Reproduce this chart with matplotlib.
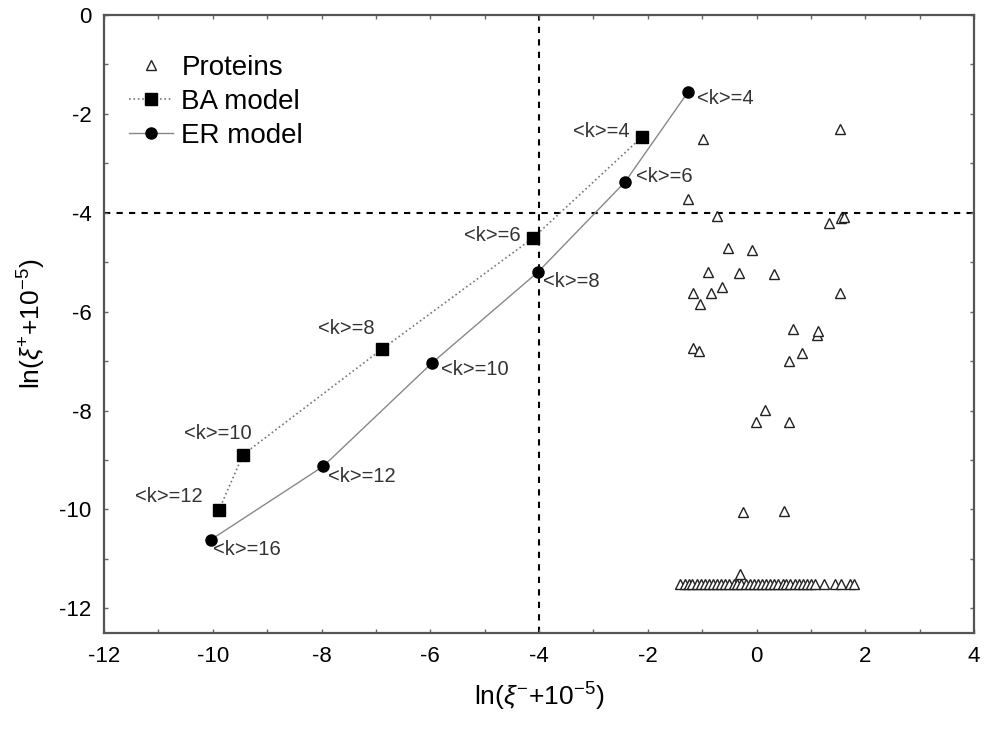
import matplotlib
matplotlib.use("Agg")
import matplotlib.pyplot as plt
from matplotlib.ticker import MultipleLocator

plt.rcParams['font.family'] = ['Liberation Sans', 'DejaVu Sans']
plt.rcParams['mathtext.fontset'] = 'custom'
plt.rcParams['mathtext.rm'] = 'Liberation Sans'
plt.rcParams['mathtext.it'] = 'Liberation Sans:italic'
plt.rcParams['mathtext.bf'] = 'Liberation Sans:bold'
plt.rcParams['axes.unicode_minus'] = False

# ---- data ----
ba_k = [4, 6, 8, 10, 12]
ba_x = [-2.11, -4.11, -6.89, -9.44, -9.89]
ba_y = [-2.47, -4.51, -6.76, -8.89, -10.02]

er_k = [4, 6, 8, 10, 12, 16]
er_x = [-1.26, -2.42, -4.02, -5.97, -7.97, -10.03]
er_y = [-1.56, -3.38, -5.20, -7.04, -9.13, -10.61]

prot_x = [1.53, -0.99, -1.26, -0.73, 1.33, 1.55, 1.60, -0.53, -0.09, -0.90, -0.33, 0.32,
          -1.17, -0.84, -0.64, -1.03, 1.53, 0.68, 1.11, 1.14, -1.17, -1.06,
          0.59, 0.83, 0.15, -0.01, 0.59, -0.24, 0.50, -0.31]
prot_y = [-2.31, -2.51, -3.72, -4.07, -4.21, -4.11, -4.08, -4.72, -4.76, -5.20, -5.22, -5.24,
          -5.63, -5.63, -5.51, -5.85, -5.63, -6.36, -6.48, -6.40, -6.74, -6.80,
          -7.00, -6.84, -7.98, -8.24, -8.24, -10.06, -10.04, -11.30]
# proteins with xi+ = 0 (bottom row)
row_x = [-1.40, -1.32, -1.25, -1.18, -1.10, -1.02, -0.95, -0.88, -0.80, -0.72, -0.65,
         -0.58, -0.50, -0.42, -0.35, -0.28, -0.20, -0.12, -0.05, 0.03, 0.10, 0.18,
         0.25, 0.33, 0.40, 0.48, 0.55, 0.62, 0.70, 0.78, 0.85, 0.93, 1.00, 1.08,
         1.25, 1.45, 1.55, 1.72, 1.80]
row_y = [-11.51] * len(row_x)

# label offsets (pixels) and alignment
ba_off = [(-12, 6), (-12, 2), (-7, 21), (-25, 21), (-16, 14)]
ba_ha = ['right', 'right', 'right', 'center', 'right']
er_off = [(9, -6), (11, 6), (5, -9), (9, -6), (5, -10), (2, -10)]

fig = plt.figure(figsize=(9.86, 7.31), dpi=100)
ax = fig.add_axes([104/986, 1-633/731, (974-104)/986, (633-15)/731])

ax.axvline(-4, color='black', linestyle=(0, (3, 3)), linewidth=1.5, zorder=1)
ax.axhline(-4, color='black', linestyle=(0, (3, 3)), linewidth=1.5, zorder=1)

ax.plot(prot_x + row_x, prot_y + row_y, linestyle='none', marker='^', markersize=7,
        markerfacecolor='white', markeredgecolor='#222222', markeredgewidth=1.0,
        label='Proteins', zorder=3)
ax.plot(ba_x, ba_y, linestyle=':', color='#777777', linewidth=1.2, marker='s',
        markersize=8, markerfacecolor='black', markeredgecolor='black',
        label='BA model', zorder=4)
ax.plot(er_x, er_y, linestyle='-', color='#888888', linewidth=1.0, marker='o',
        markersize=8, markerfacecolor='black', markeredgecolor='black',
        label='ER model', zorder=4)

for k, x, y, off, ha in zip(ba_k, ba_x, ba_y, ba_off, ba_ha):
    ax.annotate(f'<k>={k}', (x, y), xytext=off, textcoords='offset pixels',
                ha=ha, va='center', fontsize=14.5, color='#333333')
for k, x, y, off in zip(er_k, er_x, er_y, er_off):
    ax.annotate(f'<k>={k}', (x, y), xytext=off, textcoords='offset pixels',
                ha='left', va='center', fontsize=14.5, color='#333333')

ax.set_xlim(-12, 4)
ax.set_ylim(-12.5, 0)
ax.xaxis.set_major_locator(MultipleLocator(2))
ax.xaxis.set_minor_locator(MultipleLocator(1))
ax.yaxis.set_major_locator(MultipleLocator(2))
ax.yaxis.set_minor_locator(MultipleLocator(1))
ax.tick_params(which='both', direction='in', top=True, right=True, length=3,
               width=1, color='#666666', labelsize=16, pad=9)
for s in ax.spines.values():
    s.set_color('#555555')
    s.set_linewidth(1.6)

ax.set_xlabel(r'ln($\xi^{-}$+10$^{-5}$)', fontsize=19, labelpad=10)
ax.set_ylabel(r'ln($\xi^{+}$+10$^{-5}$)', fontsize=19, labelpad=8)

ax.legend(loc='upper left', bbox_to_anchor=(-0.01, 0.99), frameon=False, fontsize=20,
          handlelength=1.6, handletextpad=0.3, labelspacing=0.3, borderaxespad=0.8)

fig.savefig('out.png', dpi=100)
